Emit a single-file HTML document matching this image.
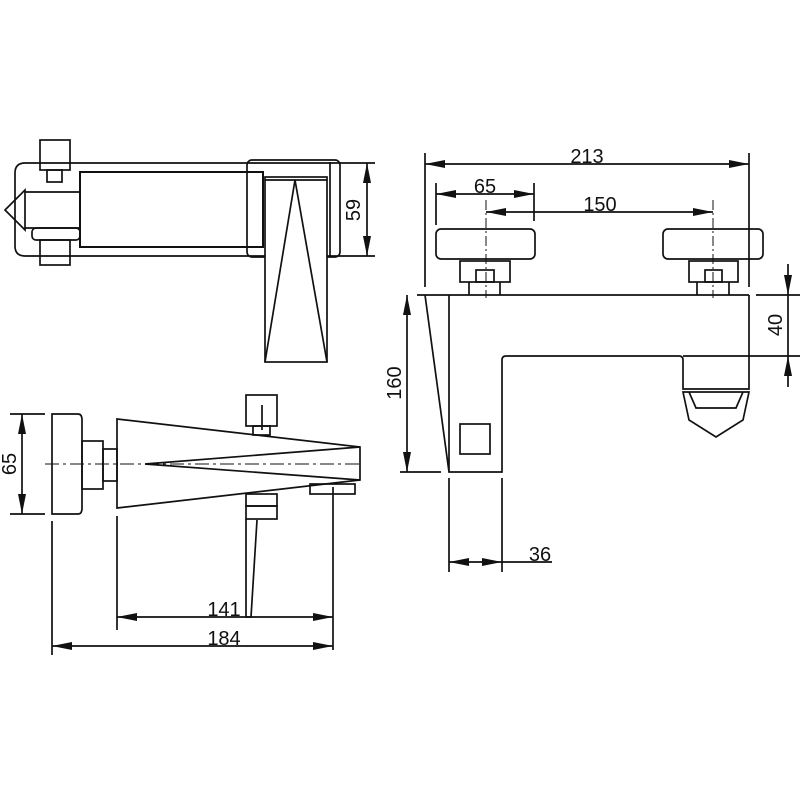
<!DOCTYPE html>
<html><head><meta charset="utf-8"><style>body{margin:0;background:#fff}svg{display:block}text{font-family:"Liberation Sans Narrow","Liberation Sans",sans-serif;font-size:20px;fill:#111}</style></head>
<body>
<svg width="800" height="800" viewBox="0 0 800 800" xmlns="http://www.w3.org/2000/svg">
<defs>
<marker id="a" viewBox="0 0 20 8" refX="20" refY="4" markerWidth="20" markerHeight="8" markerUnits="userSpaceOnUse" orient="auto-start-reverse"><path d="M0,0 L20,4 L0,8 Z" fill="#111"/></marker>
</defs>
<g fill="none" stroke="#111" stroke-width="1.7">
<!-- TOP VIEW -->
<path d="M25,163 H340 M25,256 H340"/>
<path d="M25,163 Q15,163 15,173 V246 Q15,256 25,256"/>
<polygon points="5,210 25,190 25,230"/>
<path d="M25,192 H80 M25,228 H80"/>
<rect x="40" y="140" width="30" height="30"/>
<rect x="47" y="170" width="15" height="12"/>
<rect x="32" y="228" width="48" height="12" rx="4"/>
<rect x="40" y="240" width="30" height="25"/>
<rect x="80" y="172" width="183" height="75" stroke-width="2"/>
<rect x="247" y="160" width="93" height="97" rx="5"/>
<path d="M330,162 V256"/>
<rect x="265" y="177" width="62" height="185" fill="#fff"/>
<path d="M295,180 L265,362 M295,180 L327,362 M265,180 H327"/>
<path d="M340,163 H375 M340,256 H375"/>
<path d="M367,163 V256" marker-start="url(#a)" marker-end="url(#a)"/>
<!-- FRONT VIEW -->
<path d="M10,414 H45 M10,514 H45"/>
<path d="M22,414 V514" marker-start="url(#a)" marker-end="url(#a)"/>
<path d="M52,414 H78 Q82,414 82,420 V508 Q82,514 78,514 H52 Z"/>
<rect x="82" y="441" width="21" height="48"/>
<rect x="103" y="449" width="14" height="32"/>
<path d="M117,419 L360,447 V480 L117,508 Z"/>
<path d="M145,464 L360,447 M145,464 L360,480"/>
<path d="M45,464 H360" stroke-width="1" stroke-dasharray="14,4,3,4"/>
<rect x="246" y="395" width="31" height="31"/>
<rect x="253" y="426" width="17" height="9"/>
<path d="M262,405 V430"/>
<rect x="246" y="494" width="31" height="12"/>
<rect x="246" y="506" width="31" height="13"/>
<path d="M246,519 V617 H251 L257,520"/>
<rect x="310" y="484" width="45" height="10"/>
<path d="M117,516 V630 M333,487 V650 M52,521 V655"/>
<path d="M117,617 H333" marker-start="url(#a)" marker-end="url(#a)"/>
<path d="M52,646 H333" marker-start="url(#a)" marker-end="url(#a)"/>
<!-- RIGHT VIEW -->
<path d="M425,153 V287 M749,153 V287 M436,183 V225 M534,183 V221"/>
<path d="M425,164 H749" marker-start="url(#a)" marker-end="url(#a)"/>
<path d="M436,194 H534" marker-start="url(#a)" marker-end="url(#a)"/>
<path d="M486,212 H713" marker-start="url(#a)" marker-end="url(#a)"/>
<path d="M486,200 V298 M713,200 V298" stroke-width="1" stroke-dasharray="10,3,2,3"/>
<rect x="436" y="229" width="99" height="30" rx="5"/>
<rect x="460" y="261" width="50" height="21"/>
<rect x="476" y="270" width="18" height="12"/>
<path d="M469,282 V295 M500,282 V295"/>
<rect x="663" y="229" width="100" height="30" rx="5"/>
<rect x="689" y="261" width="49" height="21"/>
<rect x="705" y="270" width="17" height="12"/>
<path d="M697,282 V295 M729,282 V295"/>
<path d="M417,295 H749 M756,295 H800"/>
<path d="M425,295 L449,472 M449,295 V472 H502 V360 Q502,356 506,356 H679 Q683,356 683,360 V389 H749 V295"/>
<path d="M683,392 H749 L743,420 L716,437 L689,420 Z M689,392 L696,408 H736 L743,392"/>
<rect x="460" y="424" width="30" height="30"/>
<path d="M400,472 H441"/>
<path d="M407,295 V472" marker-start="url(#a)" marker-end="url(#a)"/>
<path d="M683,356 H800"/>
<path d="M788,264 V295" marker-end="url(#a)"/>
<path d="M788,295 V356"/>
<path d="M788,387 V356" marker-end="url(#a)"/>
<path d="M449,478 V572 M502,478 V572"/>
<path d="M449,562 H502" marker-start="url(#a)" marker-end="url(#a)"/>
<path d="M502,562 H552"/>
</g>
<text x="587" y="163" text-anchor="middle">213</text>
<text x="485" y="193" text-anchor="middle">65</text>
<text x="600" y="211" text-anchor="middle">150</text>
<text x="540" y="561" text-anchor="middle">36</text>
<text x="224" y="616" text-anchor="middle">141</text>
<text x="224" y="645" text-anchor="middle">184</text>
<text transform="translate(360,210) rotate(-90)" text-anchor="middle">59</text>
<text transform="translate(16,464) rotate(-90)" text-anchor="middle">65</text>
<text transform="translate(401,383) rotate(-90)" text-anchor="middle">160</text>
<text transform="translate(782,325) rotate(-90)" text-anchor="middle">40</text>
</svg>
</body></html>
